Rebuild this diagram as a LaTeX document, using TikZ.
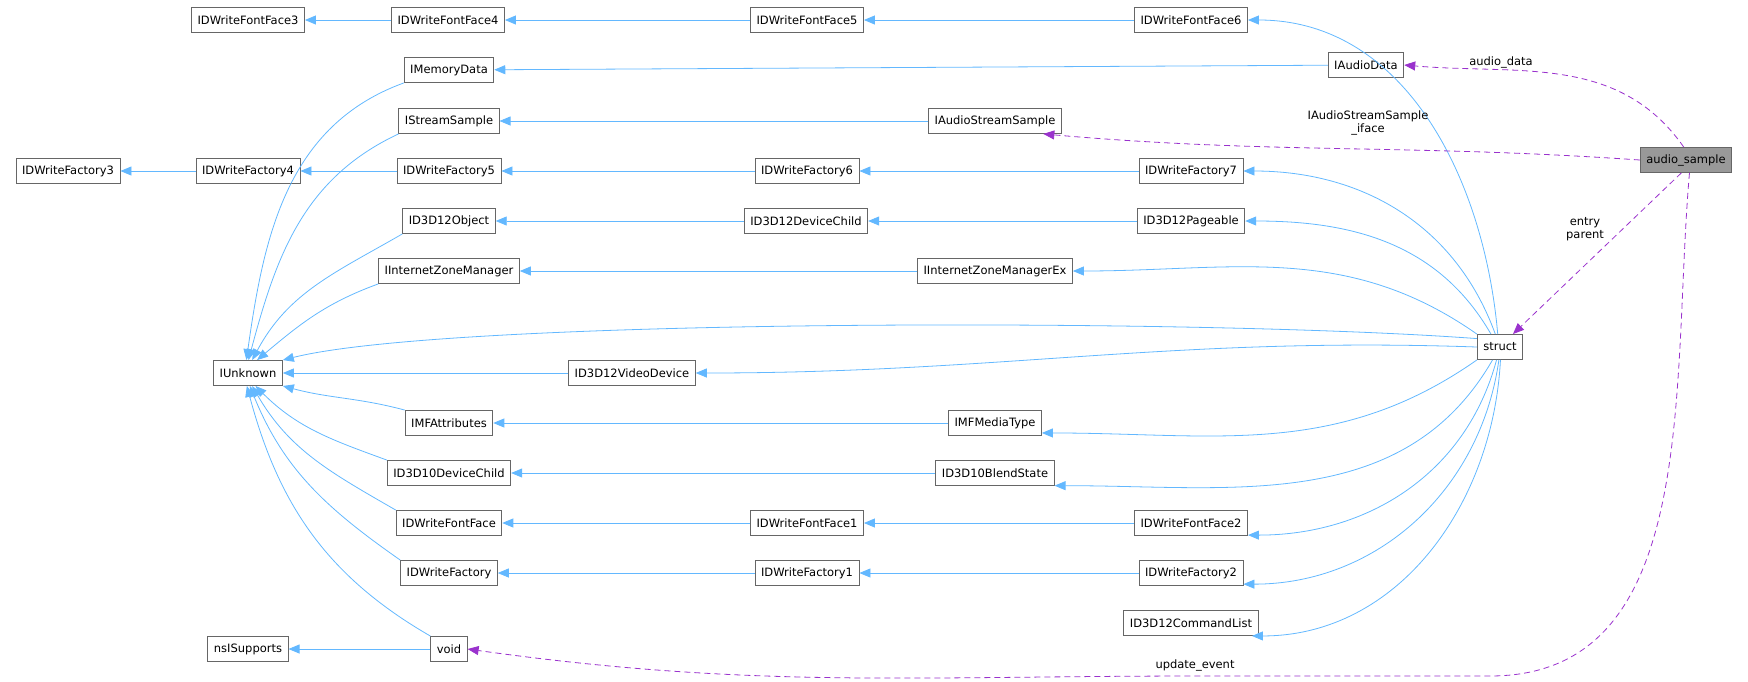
\documentclass[tikz,border=0pt]{standalone}
\usepackage{fontspec}
\setmainfont{DejaVu Sans}
\usetikzlibrary{arrows.meta}
\definecolor{InhBlue}{RGB}{99,184,255}
\definecolor{UsePurple}{RGB}{154,50,205}
\definecolor{BoxGray}{RGB}{102,102,102}
\tikzset{
  box/.style={draw=BoxGray,fill=white,line width=0.9pt,minimum height=25pt,inner xsep=6pt,inner ysep=0pt,font=\fontsize{11.5}{13}\selectfont},
  cur/.style={box,fill=black!40},
  inh/.style={draw=InhBlue,line width=0.8pt,-{Triangle[length=11pt,width=9pt]}},
  use/.style={draw=UsePurple,line width=0.8pt,dash pattern=on 6pt off 4pt,-{Triangle[length=11pt,width=9pt]}},
  lbl/.style={font=\fontsize{11.5}{13}\selectfont,inner sep=0pt,align=center},
}
\begin{document}
\begin{tikzpicture}[x=1pt,y=-1pt]
  \useasboundingbox (0,0) rectangle (1748,681);
  % columns of the graph
  \node[box] (ff3) at (248,20) {IDWriteFontFace3};
  \node[box] (ff4) at (448,20) {IDWriteFontFace4};
  \node[box] (ff5) at (807,20) {IDWriteFontFace5};
  \node[box] (ff6) at (1191,20) {IDWriteFontFace6};
  \node[box] (mem) at (449,70) {IMemoryData};
  \node[box] (ad) at (1366,65) {IAudioData};
  \node[box] (ss) at (449,121) {IStreamSample};
  \node[box] (ass) at (995,121) {IAudioStreamSample};
  \node[cur] (as) at (1686,160) {audio\_sample};
  \node[box] (fa3) at (68,171) {IDWriteFactory3};
  \node[box] (fa4) at (248,171) {IDWriteFactory4};
  \node[box] (fa5) at (449,171) {IDWriteFactory5};
  \node[box] (fa6) at (807,171) {IDWriteFactory6};
  \node[box] (fa7) at (1191,171) {IDWriteFactory7};
  \node[box] (obj) at (449,221) {ID3D12Object};
  \node[box] (dc) at (806,221) {ID3D12DeviceChild};
  \node[box] (pg) at (1191,221) {ID3D12Pageable};
  \node[box] (izm) at (449,271) {IInternetZoneManager};
  \node[box] (izx) at (995,271) {IInternetZoneManagerEx};
  \node[box] (st) at (1500,347) {struct};
  \node[box] (unk) at (248,373) {IUnknown};
  \node[box] (vd) at (632,373) {ID3D12VideoDevice};
  \node[box] (mfa) at (449,423) {IMFAttributes};
  \node[box] (mft) at (995,423) {IMFMediaType};
  \node[box] (d10) at (449,473) {ID3D10DeviceChild};
  \node[box] (bs) at (995,473) {ID3D10BlendState};
  \node[box] (ff) at (449,523) {IDWriteFontFace};
  \node[box] (ff1) at (807,523) {IDWriteFontFace1};
  \node[box] (ff2) at (1191,523) {IDWriteFontFace2};
  \node[box] (fa) at (449,573) {IDWriteFactory};
  \node[box] (fa1) at (807,573) {IDWriteFactory1};
  \node[box] (fa2) at (1191,573) {IDWriteFactory2};
  \node[box] (cl) at (1191,623) {ID3D12CommandList};
  \node[box] (nss) at (248,649) {nsISupports};
  \node[box] (vo) at (449,649) {void};
  \coordinate (bend) at (1490,676);
  % inheritance
  \draw[inh] (ff4) -- (ff3);
  \draw[inh] (ff5) -- (ff4);
  \draw[inh] (ff6) -- (ff5);
  \draw[inh] (ad) -- (mem);
  \draw[inh] (ass) -- (ss);
  \draw[inh] (fa4) -- (fa3);
  \draw[inh] (fa5) -- (fa4);
  \draw[inh] (fa6) -- (fa5);
  \draw[inh] (fa7) -- (fa6);
  \draw[inh] (dc) -- (obj);
  \draw[inh] (pg) -- (dc);
  \draw[inh] (izx) -- (izm);
  \draw[inh] (mft) -- (mfa);
  \draw[inh] (bs) -- (d10);
  \draw[inh] (ff1) -- (ff);
  \draw[inh] (ff2) -- (ff1);
  \draw[inh] (fa1) -- (fa);
  \draw[inh] (fa2) -- (fa1);
  \draw[inh] (vo) -- (nss);
  \draw[inh] (vd) -- (unk);
  \draw[inh] (mem.south west) to[out=200,in=82] (unk.97);
  \draw[inh] (ss.south west) to[out=205,in=75] (unk.88);
  \draw[inh] (obj.south west) to[out=210,in=62] (unk.72);
  \draw[inh] (izm.south west) to[out=200,in=40] (unk.55);
  \draw[inh] (mfa.north west) to[out=165,in=-15] (unk.south east);
  \draw[inh] (d10.north west) to[out=160,in=-45] (unk.-60);
  \draw[inh] (ff.north west) to[out=150,in=-60] (unk.-72);
  \draw[inh] (fa.north west) to[out=145,in=-68] (unk.-82);
  \draw[inh] (vo.north west) to[out=150,in=-75] (unk.-95);
  % struct to its bases
  \draw[inh] (st.100) to[out=95,in=0] (ff6.east);
  \draw[inh] (st.110) to[out=110,in=0] (fa7.east);
  \draw[inh] (st.125) to[out=120,in=0] (pg.east);
  \draw[inh] (st.north west) to[out=145,in=0] (izx.east);
  \draw[inh] (st.160) .. controls (1200,318) and (450,318) .. (unk.north east);
  \draw[inh] (st.west) to[out=178,in=0] (vd.east);
  \draw[inh] (st.south west) to[out=215,in=0] (mft.-12);
  \draw[inh] (st.-120) to[out=240,in=0] (bs.-12);
  \draw[inh] (st.-105) to[out=255,in=0] (ff2.-12);
  \draw[inh] (st.-95) to[out=262,in=0] (fa2.-12);
  \draw[inh] (st.-88) to[out=267,in=0] (cl.-12);
  % usage
  \draw[use] (as.100) to[out=125,in=-5] (ad.east);
  \draw[use] (as.west) to[out=176,in=-5] (ass.-15);
  \draw[use] (as.-110) -- (st.45);
  \draw[use] (as.-75) to[out=265,in=0] (bend) -- (1200,676) to[out=180,in=-8] (vo.east);
  \node[lbl] (l1) at (1501,62) {audio\_data};
  \node[lbl] (l2) at (1368,123) {IAudioStreamSample\\\_iface};
  \node[lbl] (l3) at (1585,229) {entry\\parent};
  \node[lbl] (l4) at (1195,665) {update\_event};
\end{tikzpicture}
\end{document}
